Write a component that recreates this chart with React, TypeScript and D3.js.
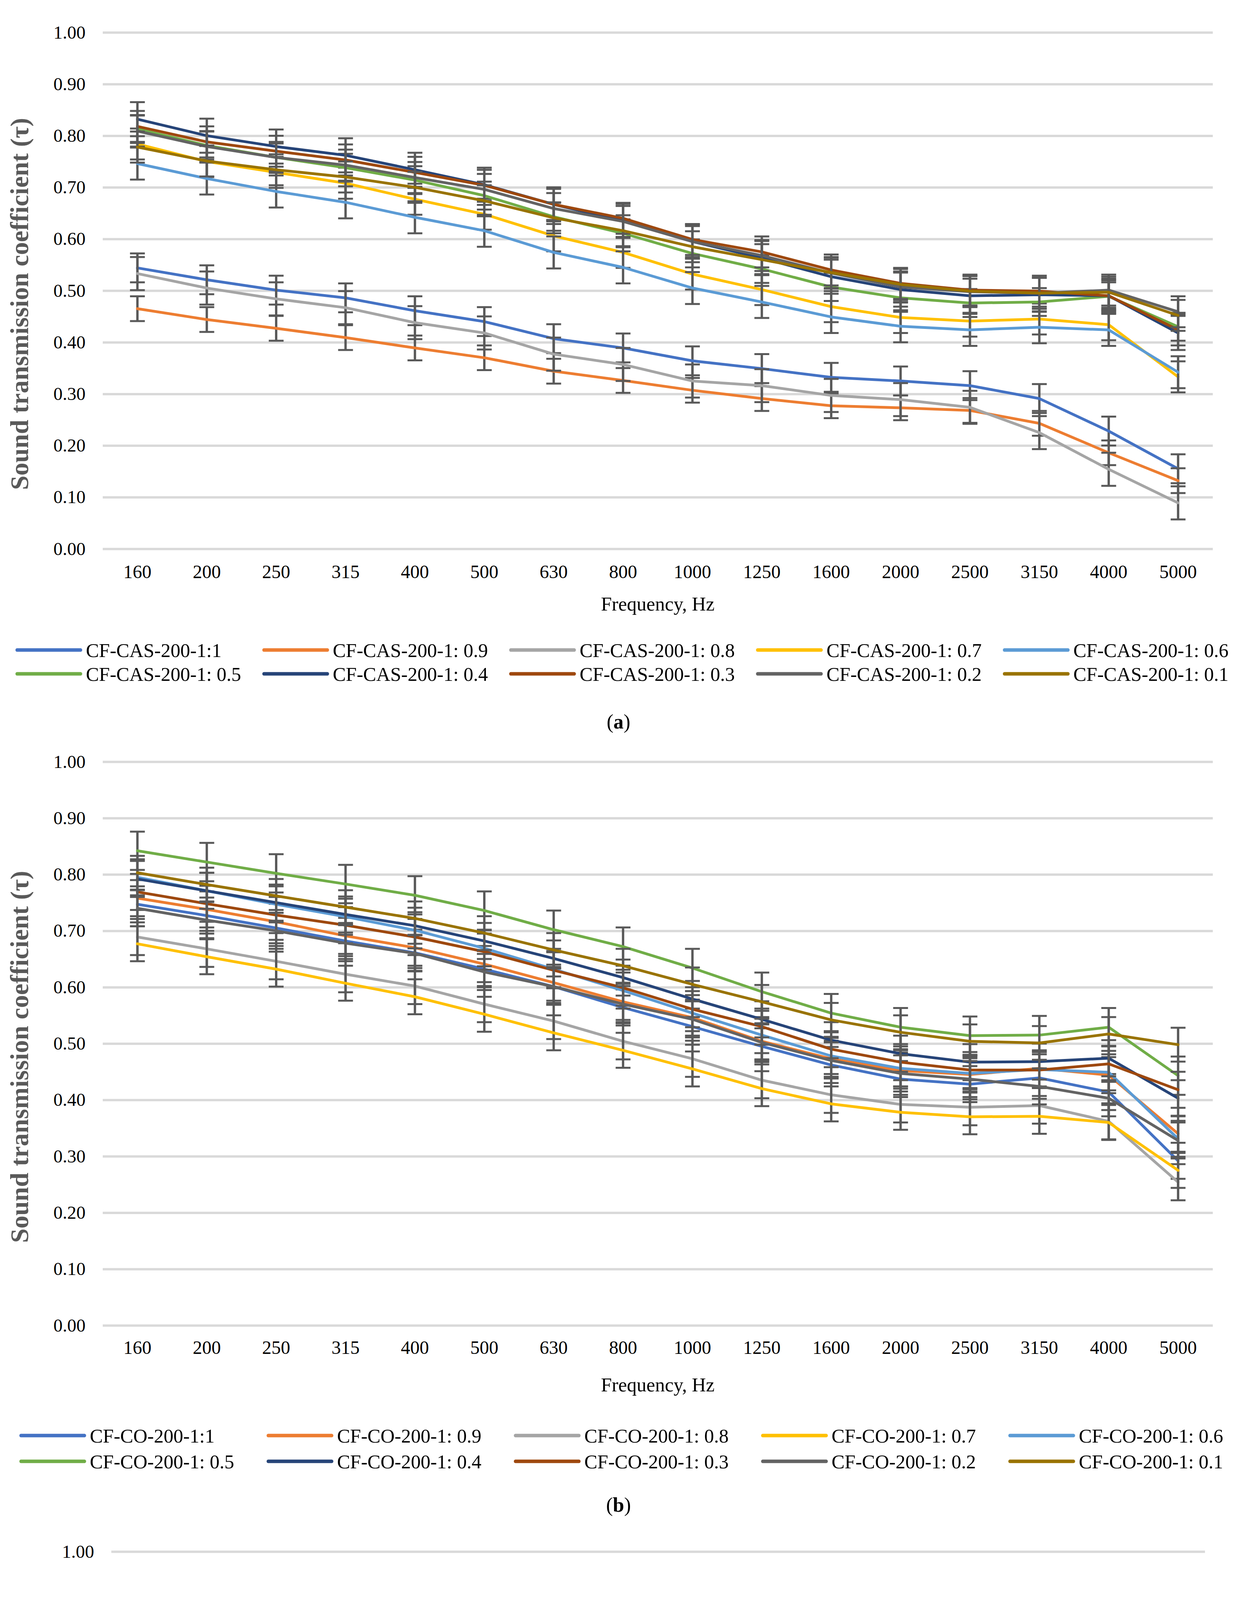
import * as d3 from "d3";
import { useEffect, useRef } from "react";

const FREQS = ["160", "200", "250", "315", "400", "500", "630", "800", "1000", "1250", "1600", "2000", "2500", "3150", "4000", "5000"];
const RATIOS = ["1", "0.9", "0.8", "0.7", "0.6", "0.5", "0.4", "0.3", "0.2", "0.1"];
const COLORS = ["#4472C4", "#ED7D31", "#A5A5A5", "#FFC000", "#5B9BD5", "#70AD47", "#264478", "#9E480E", "#636363", "#997300"];
const Y_TICKS = [0.0, 0.1, 0.2, 0.3, 0.4, 0.5, 0.6, 0.7, 0.8, 0.9, 1.0];

// (a) CF-CAS-200
const CAS_1_1 = [0.544, 0.521, 0.501, 0.486, 0.461, 0.44, 0.407, 0.389, 0.364, 0.349, 0.332, 0.325, 0.316, 0.291, 0.228, 0.155];
const CAS_0_9 = [0.465, 0.444, 0.427, 0.409, 0.389, 0.37, 0.344, 0.326, 0.307, 0.291, 0.277, 0.273, 0.268, 0.243, 0.186, 0.132];
const CAS_0_8 = [0.533, 0.505, 0.484, 0.467, 0.438, 0.418, 0.377, 0.357, 0.325, 0.316, 0.297, 0.289, 0.274, 0.225, 0.154, 0.089];
const CAS_0_7 = [0.784, 0.75, 0.729, 0.708, 0.677, 0.648, 0.606, 0.574, 0.532, 0.502, 0.469, 0.448, 0.441, 0.445, 0.434, 0.333];
const CAS_0_6 = [0.746, 0.717, 0.692, 0.671, 0.642, 0.616, 0.574, 0.545, 0.505, 0.478, 0.449, 0.431, 0.424, 0.429, 0.424, 0.342];
const CAS_0_5 = [0.813, 0.781, 0.758, 0.738, 0.714, 0.684, 0.643, 0.611, 0.572, 0.542, 0.507, 0.486, 0.476, 0.478, 0.489, 0.43];
const CAS_0_4 = [0.832, 0.8, 0.779, 0.762, 0.734, 0.705, 0.667, 0.635, 0.595, 0.563, 0.527, 0.502, 0.49, 0.492, 0.49, 0.418];
const CAS_0_3 = [0.818, 0.788, 0.77, 0.753, 0.729, 0.704, 0.667, 0.64, 0.599, 0.575, 0.54, 0.514, 0.501, 0.499, 0.49, 0.424];
const CAS_0_2 = [0.809, 0.779, 0.758, 0.743, 0.719, 0.696, 0.659, 0.634, 0.595, 0.568, 0.534, 0.507, 0.498, 0.495, 0.501, 0.459];
const CAS_0_1 = [0.778, 0.751, 0.734, 0.72, 0.7, 0.674, 0.641, 0.616, 0.585, 0.56, 0.535, 0.512, 0.499, 0.495, 0.497, 0.452];
const CAS_ERR = [0.028, 0.024, 0.032, 0.03, 0.031, 0.027, 0.033, 0.03, 0.03, 0.03];

// (b) CF-CO-200
const CO_1_1 = [0.747, 0.727, 0.705, 0.682, 0.661, 0.632, 0.601, 0.564, 0.53, 0.495, 0.462, 0.437, 0.428, 0.439, 0.414, 0.292];
const CO_0_9 = [0.758, 0.738, 0.716, 0.691, 0.67, 0.641, 0.608, 0.574, 0.546, 0.504, 0.473, 0.452, 0.445, 0.456, 0.444, 0.34];
const CO_0_8 = [0.689, 0.668, 0.646, 0.623, 0.602, 0.57, 0.54, 0.504, 0.473, 0.435, 0.409, 0.392, 0.387, 0.39, 0.362, 0.254];
const CO_0_7 = [0.677, 0.654, 0.632, 0.607, 0.583, 0.552, 0.519, 0.488, 0.455, 0.42, 0.393, 0.378, 0.37, 0.371, 0.36, 0.275];
const CO_0_6 = [0.795, 0.771, 0.747, 0.725, 0.701, 0.669, 0.632, 0.594, 0.554, 0.515, 0.478, 0.456, 0.447, 0.454, 0.449, 0.331];
const CO_0_5 = [0.842, 0.822, 0.802, 0.783, 0.763, 0.736, 0.702, 0.672, 0.634, 0.592, 0.554, 0.529, 0.514, 0.515, 0.529, 0.443];
const CO_0_4 = [0.792, 0.771, 0.75, 0.729, 0.709, 0.682, 0.651, 0.617, 0.579, 0.543, 0.506, 0.482, 0.467, 0.468, 0.474, 0.403];
const CO_0_3 = [0.769, 0.748, 0.728, 0.71, 0.689, 0.663, 0.63, 0.599, 0.561, 0.53, 0.49, 0.467, 0.453, 0.453, 0.464, 0.418];
const CO_0_2 = [0.74, 0.719, 0.7, 0.678, 0.66, 0.627, 0.601, 0.57, 0.543, 0.502, 0.47, 0.447, 0.437, 0.424, 0.403, 0.328];
const CO_0_1 = [0.803, 0.782, 0.762, 0.742, 0.722, 0.696, 0.666, 0.638, 0.605, 0.574, 0.542, 0.52, 0.504, 0.501, 0.517, 0.498];
const CO_ERR = [0.032, 0.032, 0.032, 0.031, 0.032, 0.034, 0.032, 0.032, 0.032, 0.03];

// (c) CF-PT-200
const PT_1_1 = [0.427, 0.4, 0.37, 0.34, 0.308, 0.282, 0.254, 0.225, 0.195, 0.151, 0.099, 0.066, 0.061, 0.065, 0.076, 0.103];
const PT_0_9 = [0.6, 0.572, 0.544, 0.513, 0.48, 0.444, 0.406, 0.375, 0.343, 0.316, 0.301, 0.285, 0.226, 0.123, 0.054, 0.046];
const PT_0_8 = [0.597, 0.569, 0.54, 0.508, 0.476, 0.441, 0.401, 0.368, 0.335, 0.308, 0.282, 0.254, 0.217, 0.139, 0.064, 0.05];
const PT_0_7 = [0.599, 0.571, 0.541, 0.51, 0.477, 0.443, 0.404, 0.371, 0.341, 0.313, 0.298, 0.293, 0.258, 0.146, 0.061, 0.059];
const PT_0_6 = [0.643, 0.613, 0.585, 0.556, 0.522, 0.488, 0.448, 0.416, 0.379, 0.353, 0.332, 0.324, 0.296, 0.195, 0.079, 0.034];
const PT_0_5 = [0.703, 0.674, 0.643, 0.612, 0.576, 0.538, 0.496, 0.457, 0.416, 0.375, 0.346, 0.331, 0.327, 0.296, 0.194, 0.11];
const PT_0_4 = [0.735, 0.71, 0.683, 0.658, 0.629, 0.599, 0.554, 0.521, 0.476, 0.441, 0.406, 0.386, 0.378, 0.375, 0.326, 0.21];
const PT_0_3 = [0.778, 0.753, 0.728, 0.704, 0.677, 0.644, 0.607, 0.572, 0.533, 0.491, 0.456, 0.433, 0.424, 0.432, 0.433, 0.316];
const PT_0_2 = [0.762, 0.735, 0.712, 0.687, 0.66, 0.625, 0.593, 0.557, 0.518, 0.487, 0.449, 0.418, 0.416, 0.416, 0.365, 0.254];
const PT_0_1 = [0.819, 0.795, 0.777, 0.76, 0.737, 0.712, 0.675, 0.647, 0.607, 0.576, 0.541, 0.516, 0.502, 0.502, 0.524, 0.502];
const PT_ERR = [0.032, 0.044, 0.044, 0.04, 0.04, 0.04, 0.035, 0.035, 0.035, 0.03];

interface Panel {
  letter: string;
  prefix: string;
  series: number[][];
  errors: number[];
  left: number;
  right: number;
  top: number;
  bottom: number;
  tickY: number;
  titleY: number;
  legendRows: number[];
  legendX0: number;
  legendStep: number;
  captionY: number;
}

const PANELS: Panel[] = [
  {
    letter: "a",
    prefix: "CF-CAS-200-1",
    series: [CAS_1_1, CAS_0_9, CAS_0_8, CAS_0_7, CAS_0_6, CAS_0_5, CAS_0_4, CAS_0_3, CAS_0_2, CAS_0_1],
    errors: CAS_ERR,
    left: 263, right: 3105, top: 83, bottom: 1405,
    tickY: 58, titleY: 140, legendRows: [259, 320], legendX0: 40, legendStep: 632, captionY: 442,
  },
  {
    letter: "b",
    prefix: "CF-CO-200-1",
    series: [CO_1_1, CO_0_9, CO_0_8, CO_0_7, CO_0_6, CO_0_5, CO_0_4, CO_0_3, CO_0_2, CO_0_1],
    errors: CO_ERR,
    left: 263, right: 3105, top: 1950, bottom: 3393,
    tickY: 56, titleY: 151, legendRows: [282, 348], legendX0: 50, legendStep: 633, captionY: 459,
  },
  {
    letter: "c",
    prefix: "CF-PT-200-1",
    series: [PT_1_1, PT_0_9, PT_0_8, PT_0_7, PT_0_6, PT_0_5, PT_0_4, PT_0_3, PT_0_2, PT_0_1],
    errors: PT_ERR,
    left: 285, right: 3085, top: 3972, bottom: 5406,
    tickY: 59, titleY: 149, legendRows: [281, 347], legendX0: 87, legendStep: 621, captionY: 473,
  },
];

const WIDTH = 3167;
const HEIGHT = 5935;
const FONT = "'Liberation Serif', 'Times New Roman', serif";

function legendLabel(prefix: string, ratio: string) {
  return ratio === "1" ? `${prefix}:1` : `${prefix}: ${ratio}`;
}

function ChartPanels() {
  const ref = useRef<SVGSVGElement>(null);

  useEffect(() => {
    document.body.style.margin = "0";
    if (!ref.current) return;
    const svg = d3.select(ref.current);
    svg.selectAll("*").remove();

    svg.append("rect").attr("width", WIDTH).attr("height", HEIGHT).attr("fill", "#fff");

    PANELS.forEach((p) => {
      const w = p.right - p.left;
      const h = p.bottom - p.top;
      const g = svg.append("g").attr("transform", `translate(${p.left},${p.top})`);

      const x = d3.scaleBand<string>().domain(FREQS).range([0, w]);
      const y = d3.scaleLinear().domain([0, 1]).range([h, 0]);
      const cx = (f: string) => (x(f) ?? 0) + x.bandwidth() / 2;

      // gridlines + y labels
      const yAxis = g
        .append("g")
        .call(d3.axisLeft(y).tickValues(Y_TICKS).tickSize(-w).tickPadding(44).tickFormat(d3.format(".2f")));
      yAxis.select(".domain").remove();
      yAxis.selectAll("line").attr("stroke", "#D9D9D9").attr("stroke-width", 6);
      yAxis.selectAll("text").attr("font-family", FONT).attr("font-size", 47).attr("fill", "#000");

      // category labels
      g.append("g")
        .selectAll("text")
        .data(FREQS)
        .join("text")
        .attr("x", (d) => cx(d))
        .attr("y", h + p.tickY)
        .attr("dy", "0.35em")
        .attr("text-anchor", "middle")
        .attr("font-family", FONT)
        .attr("font-size", 48)
        .text((d) => d);

      // series
      const line = d3
        .line<number>()
        .x((_d, i) => cx(FREQS[i]))
        .y((d) => y(d));

      p.series.forEach((vals, si) => {
        const err = p.errors[si];
        const eb = g.append("g").attr("stroke", "#595959");
        eb.selectAll("line.v")
          .data(vals)
          .join("line")
          .attr("class", "v")
          .attr("x1", (_d, i) => cx(FREQS[i]))
          .attr("x2", (_d, i) => cx(FREQS[i]))
          .attr("y1", (d) => y(d + err))
          .attr("y2", (d) => y(Math.max(0, d - err)))
          .attr("stroke-width", 6);
        [1, -1].forEach((s) => {
          eb.selectAll(`line.c${s}`)
            .data(vals)
            .join("line")
            .attr("class", `c${s}`)
            .attr("x1", (_d, i) => cx(FREQS[i]) - 19)
            .attr("x2", (_d, i) => cx(FREQS[i]) + 19)
            .attr("y1", (d) => y(d + s * err))
            .attr("y2", (d) => y(d + s * err))
            .attr("stroke-width", 5);
        });

        g.append("path")
          .datum(vals)
          .attr("d", line)
          .attr("fill", "none")
          .attr("stroke", COLORS[si])
          .attr("stroke-width", 7)
          .attr("stroke-linejoin", "round")
          .attr("stroke-linecap", "round");
      });

      // axis titles
      g.append("text")
        .attr("transform", "rotate(-90)")
        .attr("x", -h / 2 - 34)
        .attr("y", -191)
        .attr("text-anchor", "middle")
        .attr("font-family", FONT)
        .attr("font-weight", "bold")
        .attr("font-size", 66)
        .attr("fill", "#595959")
        .text("Sound transmission coefficient (τ)");

      g.append("text")
        .attr("x", w / 2)
        .attr("y", h + p.titleY)
        .attr("dy", "0.35em")
        .attr("text-anchor", "middle")
        .attr("font-family", FONT)
        .attr("font-size", 50)
        .text("Frequency, Hz");

      // legend
      const lg = svg.append("g").attr("transform", `translate(0,${p.bottom})`);
      RATIOS.forEach((r, i) => {
        const col = i % 5;
        const row = Math.floor(i / 5);
        const lx = p.legendX0 + col * p.legendStep;
        const ly = p.legendRows[row];
        lg.append("line")
          .attr("x1", lx + 4)
          .attr("x2", lx + 166)
          .attr("y1", ly)
          .attr("y2", ly)
          .attr("stroke", COLORS[i])
          .attr("stroke-width", 9)
          .attr("stroke-linecap", "round");
        lg.append("text")
          .attr("x", lx + 180)
          .attr("y", ly)
          .attr("dy", "0.35em")
          .attr("font-family", FONT)
          .attr("font-size", 50)
          .text(legendLabel(p.prefix, r));
      });

      // caption
      const cap = svg
        .append("text")
        .attr("x", WIDTH / 2)
        .attr("y", p.bottom + p.captionY)
        .attr("dy", "0.35em")
        .attr("text-anchor", "middle")
        .attr("font-family", FONT)
        .attr("font-size", 52);
      cap.append("tspan").text("(");
      cap.append("tspan").attr("font-weight", "bold").text(p.letter);
      cap.append("tspan").text(")");
    });
  }, []);

  return (
    <div style={{ width: WIDTH, height: HEIGHT, overflow: "hidden" }}>
      <svg ref={ref} width={WIDTH} height={HEIGHT} viewBox={`0 0 ${WIDTH} ${HEIGHT}`} style={{ display: "block" }} />
    </div>
  );
}

export default function App() {
  return <ChartPanels />;
}
